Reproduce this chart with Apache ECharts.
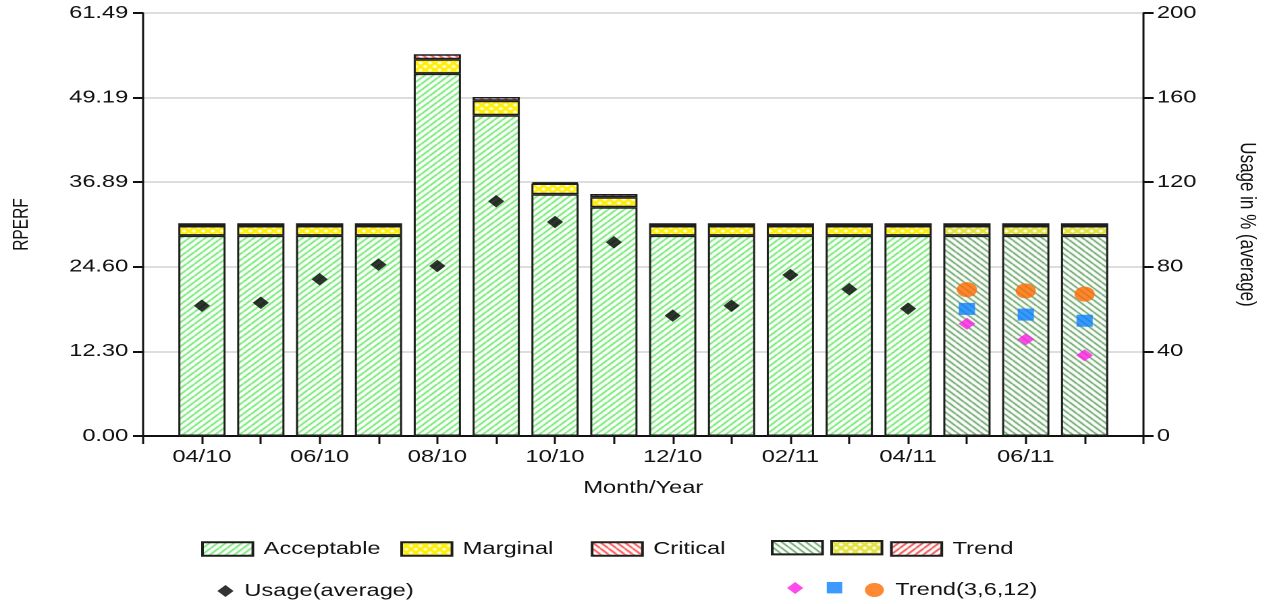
<!DOCTYPE html>
<html>
<head>
<meta charset="utf-8">
<script src="https://cdn.jsdelivr.net/npm/echarts@6/dist/echarts.min.js"></script>
<style>
    html, body { margin: 0; padding: 0; background: #fff; overflow: hidden; }
    /* the reference is a horizontally stretched export, so the chart is drawn narrow and stretched */
    #chart { width: 939px; height: 604px; transform: scaleX(1.35); transform-origin: 0 0; }
</style>
</head>
<body>
<div id="chart"></div>
<script>
const months = ['04/10', '05/10', '06/10', '07/10', '08/10', '09/10', '10/10', '11/10',
    '12/10', '01/11', '02/11', '03/11', '04/11', '05/11', '06/11', '07/11'];
const acceptable = [29.12, 29.12, 29.12, 29.12, 52.67, 46.62, 35.14, 33.25,
    29.12, 29.12, 29.12, 29.12, 29.12, 29.12, 29.12, 29.12];
const marginal = [1.41, 1.41, 1.41, 1.41, 2.09, 2.12, 1.56, 1.45,
    1.41, 1.41, 1.41, 1.41, 1.41, 1.41, 1.41, 1.41];
const critical = [0.39, 0.39, 0.39, 0.39, 0.73, 0.54, 0.19, 0.48,
    0.39, 0.39, 0.39, 0.39, 0.39, 0.39, 0.39, 0.39];
const trendFrom = 13; // first month drawn as trend
const usage = [61.6, 63.0, 74.1, 81.0, 80.4, 111.0, 101.2, 91.6, 56.9, 61.6, 76.1, 69.4, 60.2];
const trend3 = [53.1, 45.7, 38.2];
const trend6 = [60.1, 57.4, 54.5];
const trend12 = [69.2, 68.6, 67.1];
const rperfMax = 61.49;
const usageMax = 200;

const FONT = 'Liberation Sans';
const N = months.length + 2; // empty slot each side of the axis

function tile(w, h, paint) {
    const c = document.createElement('canvas');
    c.width = w;
    c.height = h;
    const ctx = c.getContext('2d');
    ctx.fillStyle = '#fff';
    ctx.fillRect(0, 0, w, h);
    paint(ctx, w, h);
    return { image: c, repeat: 'repeat' };
}

function lines(color, width, up) {
    return tile(6, 6, (ctx, w, h) => {
        ctx.strokeStyle = color;
        ctx.lineWidth = width;
        ctx.beginPath();
        for (let k = -1; k <= 1; k++) {
            if (up) {
                ctx.moveTo(k * w, h);
                ctx.lineTo(k * w + w, 0);
            } else {
                ctx.moveTo(k * w, 0);
                ctx.lineTo(k * w + w, h);
            }
        }
        ctx.stroke();
    });
}

function cross(color) {
    return tile(7, 7, (ctx, w, h) => {
        ctx.strokeStyle = color;
        ctx.lineWidth = 2.4;
        ctx.beginPath();
        for (let k = -1; k <= 1; k++) {
            ctx.moveTo(k * w, 0);
            ctx.lineTo(k * w + w, h);
            ctx.moveTo(k * w + w, 0);
            ctx.lineTo(k * w, h);
        }
        ctx.stroke();
    });
}

const fills = {
    acc: lines('#3ee23e', 1.2, true),
    marg: cross('#ffee00'),
    crit: lines('#ff2a2a', 1.3, false),
    tAcc: lines('#3a8a3a', 1.2, false),
    tMarg: cross('#e2e23a'),
    tCrit: lines('#f02a2a', 1.3, true)
};

// put month values on the padded axis
function place(values, offset) {
    const out = new Array(N).fill('-');
    values.forEach((v, i) => { out[i + 1 + offset] = v; });
    return out;
}
function split(values, trend) {
    return place(values.map((v, i) => (i >= trendFrom) === trend ? v : '-'), 0);
}

const barStyle = (fill) => ({ color: fill, borderColor: '#1e1e1e', borderWidth: 1.5 });

function bar(name, values, fill, trend) {
    return {
        name: name,
        type: 'bar',
        stack: 'rperf',
        barWidth: 35,
        data: split(values, trend),
        itemStyle: barStyle(fill),
        emphasis: { disabled: true }
    };
}

function dots(name, values, offset, symbol, size, color) {
    return {
        name: name,
        type: 'scatter',
        yAxisIndex: 1,
        symbol: symbol,
        symbolSize: size,
        data: place(values, offset),
        itemStyle: { color: color },
        z: 5,
        emphasis: { disabled: true }
    };
}

const textStyle = { fontFamily: FONT, fontSize: 17.5, color: '#111' };

function legend(name, left, top, icon, w, h, label) {
    return {
        data: [{ name: name, icon: icon }],
        left: left,
        top: top,
        padding: 0,
        itemWidth: w,
        itemHeight: h,
        selectedMode: false,
        formatter: () => label,
        textStyle: Object.assign({ padding: [0, 0, 0, 3] }, textStyle)
    };
}

const chart = echarts.init(document.getElementById('chart'), null, { devicePixelRatio: 2 });
chart.setOption({
    animation: false,
    textStyle: { fontFamily: FONT },
    grid: { left: 106, right: 92, top: 13, bottom: 168, outerBoundsMode: 'none', containLabel: false },
    xAxis: {
        type: 'category',
        data: [''].concat(months, ['']),
        boundaryGap: false,
        name: 'Month/Year',
        nameLocation: 'middle',
        nameGap: 43,
        nameTextStyle: textStyle,
        axisLine: { lineStyle: { color: '#111', width: 2 } },
        axisTick: { interval: 0, length: 8, lineStyle: { color: '#111', width: 1.5 } },
        axisLabel: Object.assign({ interval: (i) => i % 2 === 1, margin: 12 }, textStyle),
        splitLine: { show: false }
    },
    yAxis: [
        {
            type: 'value',
            min: 0,
            max: rperfMax,
            interval: rperfMax / 5,
            name: 'RPERF',
            nameLocation: 'middle',
            nameRotate: 90,
            nameGap: 82,
            nameTextStyle: Object.assign({}, textStyle, { fontSize: 15.5 }),
            axisLine: { show: true, lineStyle: { color: '#111', width: 1.5 } },
            axisTick: { show: true, length: 7.5, lineStyle: { color: '#111', width: 2 } },
            axisLabel: Object.assign({ margin: 11, formatter: (v) => v.toFixed(2) }, textStyle),
            splitLine: { lineStyle: { color: '#d2d2d2', width: 1.5 } }
        },
        {
            type: 'value',
            min: 0,
            max: usageMax,
            interval: 40,
            position: 'right',
            name: 'Usage in % (average)',
            nameLocation: 'middle',
            nameRotate: -90,
            nameGap: 68,
            nameTextStyle: Object.assign({}, textStyle, { fontSize: 17 }),
            axisLine: { show: true, lineStyle: { color: '#111', width: 1.5 } },
            axisTick: { show: true, length: 7.5, lineStyle: { color: '#111', width: 2 } },
            axisLabel: Object.assign({ margin: 10 }, textStyle),
            splitLine: { show: false }
        }
    ],
    legend: [
        legend('Acceptable', 149, 540, 'rect', 37.3, 13.4, 'Acceptable'),
        legend('Marginal', 296.5, 540, 'rect', 37.3, 13.4, 'Marginal'),
        legend('Critical', 437.6, 540, 'rect', 37.3, 13.4, 'Critical'),
        legend('TrendAcceptable', 571, 540, 'rect', 37.3, 13.4, ''),
        legend('TrendMarginal', 615, 540, 'rect', 37.3, 13.4, ''),
        legend('Trend', 659.3, 540, 'rect', 37.3, 13.4, 'Trend'),
        legend('Usage(average)', 161, 582, 'diamond', 12, 12, 'Usage(average)'),
        legend('Trend3', 583, 582, 'diamond', 12, 12, ''),
        legend('Trend6', 612.4, 582, 'rect', 11.5, 11.4, ''),
        legend('Trend(3,6,12)', 640.7, 581, 'circle', 14.8, 14, 'Trend(3,6,12)')
    ],
    series: [
        bar('Acceptable', acceptable, fills.acc, false),
        bar('Marginal', marginal, fills.marg, false),
        bar('Critical', critical, fills.crit, false),
        bar('TrendAcceptable', acceptable, fills.tAcc, true),
        bar('TrendMarginal', marginal, fills.tMarg, true),
        bar('Trend', critical, fills.tCrit, true),
        dots('Usage(average)', usage, 0, 'diamond', [12, 12.5], '#000'),
        dots('Trend3', trend3, trendFrom, 'diamond', [12.5, 12], '#ff1ee6'),
        dots('Trend6', trend6, trendFrom, 'rect', [12, 12], '#0a80ff'),
        dots('Trend(3,6,12)', trend12, trendFrom, 'circle', [15, 15], '#ff6a00')
    ]
});
</script>
</body>
</html>
